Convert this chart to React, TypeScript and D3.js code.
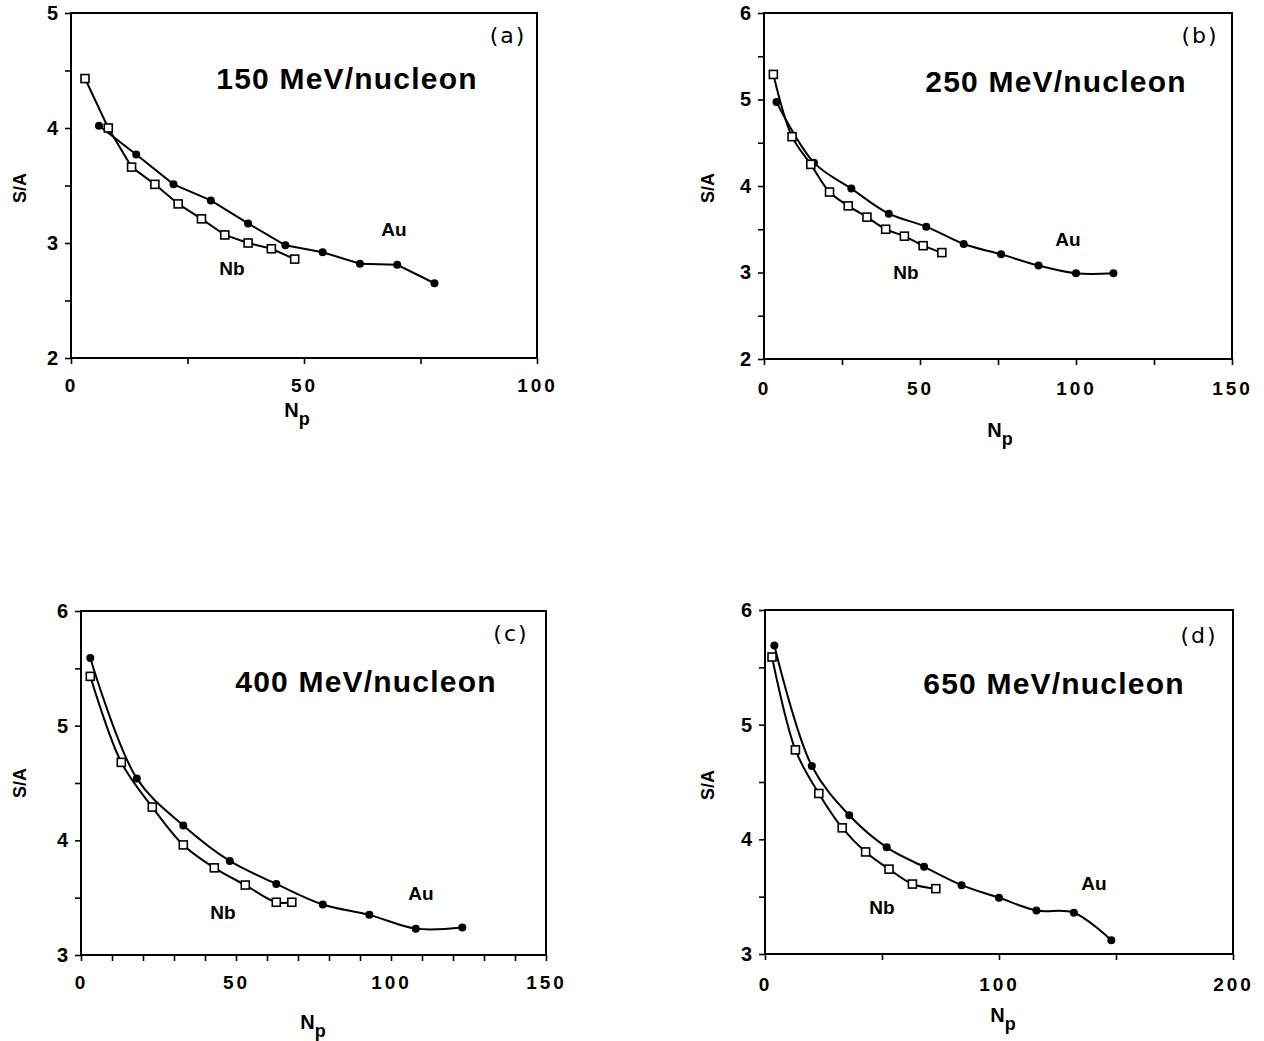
import React, { useEffect, useRef } from 'react';
import * as d3 from 'd3';

// (a) 150 MeV/nucleon
const npAu150 = [6, 14, 22, 30, 38, 46, 54, 62, 70, 78];
const saAu150 = [4.02, 3.77, 3.51, 3.37, 3.17, 2.98, 2.92, 2.82, 2.81, 2.65];
const npNb150 = [3, 8, 13, 18, 23, 28, 33, 38, 43, 48];
const saNb150 = [4.43, 4.0, 3.66, 3.51, 3.34, 3.21, 3.07, 3.0, 2.95, 2.86];

// (b) 250 MeV/nucleon
const npAu250 = [4, 16, 28, 40, 52, 64, 76, 88, 100, 112];
const saAu250 = [4.97, 4.27, 3.97, 3.68, 3.53, 3.33, 3.21, 3.08, 2.99, 2.99];
const npNb250 = [3, 9, 15, 21, 27, 33, 39, 45, 51, 57];
const saNb250 = [5.29, 4.57, 4.25, 3.93, 3.77, 3.64, 3.5, 3.42, 3.31, 3.23];

// (c) 400 MeV/nucleon
const npAu400 = [3, 18, 33, 48, 63, 78, 93, 108, 123];
const saAu400 = [5.59, 4.54, 4.13, 3.82, 3.62, 3.44, 3.35, 3.23, 3.24];
const npNb400 = [3, 13, 23, 33, 43, 53, 63, 68];
const saNb400 = [5.43, 4.68, 4.29, 3.96, 3.76, 3.61, 3.46, 3.46];

// (d) 650 MeV/nucleon
const npAu650 = [4, 20, 36, 52, 68, 84, 100, 116, 132, 148];
const saAu650 = [5.69, 4.64, 4.21, 3.93, 3.76, 3.6, 3.49, 3.38, 3.36, 3.12];
const npNb650 = [3, 13, 23, 33, 43, 53, 63, 73];
const saNb650 = [5.59, 4.78, 4.4, 4.1, 3.89, 3.74, 3.61, 3.57];

const panelTags = ['(a)', '(b)', '(c)', '(d)'];
const energies = ['150 MeV/nucleon', '250 MeV/nucleon', '400 MeV/nucleon', '650 MeV/nucleon'];

const FONT = "'Liberation Sans', Arial, Helvetica, sans-serif";

const panels = [
  {
    tag: panelTags[0], title: energies[0],
    au: npAu150.map((n, i) => [n, saAu150[i]]), nb: npNb150.map((n, i) => [n, saNb150[i]]),
    xDomain: [0, 100], yDomain: [2, 5], xStep: 25, xLabels: [0, 50, 100],
    left: 71, right: 537, top: 13, bottom: 358, smooth: false,
    tagPos: [508, 35], titlePos: [347, 78], auPos: [394, 229], nbPos: [232, 268],
    saPos: [20, 188], npPos: [297, 410], xPad: 15,
  },
  {
    tag: panelTags[1], title: energies[1],
    au: npAu250.map((n, i) => [n, saAu250[i]]), nb: npNb250.map((n, i) => [n, saNb250[i]]),
    xDomain: [0, 150], yDomain: [2, 6], xStep: 25, xLabels: [0, 50, 100, 150],
    left: 764, right: 1232, top: 13, bottom: 359, smooth: true,
    tagPos: [1200, 35], titlePos: [1056, 81], auPos: [1068, 239], nbPos: [906, 272],
    saPos: [708, 188], npPos: [1000, 430], xPad: 17,
  },
  {
    tag: panelTags[2], title: energies[2],
    au: npAu400.map((n, i) => [n, saAu400[i]]), nb: npNb400.map((n, i) => [n, saNb400[i]]),
    xDomain: [0, 150], yDomain: [3, 6], xStep: 10, xLabels: [0, 50, 100, 150],
    left: 81, right: 546, top: 611, bottom: 955, smooth: true,
    tagPos: [511, 633], titlePos: [366, 681], auPos: [421, 893], nbPos: [223, 912],
    saPos: [20, 783], npPos: [313, 1022], xPad: 15,
  },
  {
    tag: panelTags[3], title: energies[3],
    au: npAu650.map((n, i) => [n, saAu650[i]]), nb: npNb650.map((n, i) => [n, saNb650[i]]),
    xDomain: [0, 200], yDomain: [3, 6], xStep: 50, xLabels: [0, 100, 200],
    left: 765, right: 1233, top: 610, bottom: 954, smooth: true,
    tagPos: [1199, 635], titlePos: [1054, 683], auPos: [1094, 883], nbPos: [882, 907],
    saPos: [708, 785], npPos: [1003, 1015], xPad: 18,
  },
];

const App = () => {
  const ref = useRef<SVGSVGElement>(null);

  useEffect(() => {
    const svg = d3.select(ref.current);
    svg.selectAll('*').remove();

    panels.forEach((p) => {
      const g = svg.append('g');
      const x = d3.scaleLinear().domain(p.xDomain).range([p.left, p.right]);
      const y = d3.scaleLinear().domain(p.yDomain).range([p.bottom, p.top]);

      // x axis (ticks down, labels only at major values)
      const xAx = g
        .append('g')
        .attr('transform', `translate(0,${p.bottom})`)
        .call(
          d3
            .axisBottom(x)
            .tickValues(d3.range(p.xDomain[0], p.xDomain[1] + 0.001, p.xStep))
            .tickSize(6)
            .tickSizeOuter(0)
            .tickPadding(p.xPad)
            .tickFormat((d) => (p.xLabels.includes(+d) ? String(d) : ''))
        );
      xAx.select('.domain').remove();
      xAx.selectAll('line').attr('stroke', '#000').attr('stroke-width', 1.6);
      xAx
        .selectAll('text')
        .attr('font-family', FONT)
        .attr('font-weight', 'bold')
        .attr('font-size', 19)
        .attr('letter-spacing', 3)
        .attr('fill', '#000');

      // y axis (ticks every 0.5)
      const yAx = g
        .append('g')
        .attr('transform', `translate(${p.left},0)`)
        .call(
          d3
            .axisLeft(y)
            .tickValues(d3.range(p.yDomain[0], p.yDomain[1] + 0.001, 0.5))
            .tickSize(6)
            .tickSizeOuter(0)
            .tickPadding(7)
            .tickFormat((d) => (Number.isInteger(+d) ? String(d) : ''))
        );
      yAx.select('.domain').remove();
      yAx.selectAll('line').attr('stroke', '#000').attr('stroke-width', 1.6);
      yAx
        .selectAll('text')
        .attr('font-family', FONT)
        .attr('font-weight', 'bold')
        .attr('font-size', 20)
        .attr('fill', '#000');

      // frame
      g.append('rect')
        .attr('x', p.left)
        .attr('y', p.top)
        .attr('width', p.right - p.left)
        .attr('height', p.bottom - p.top)
        .attr('fill', 'none')
        .attr('stroke', '#000')
        .attr('stroke-width', 2);

      const line = d3
        .line<number[]>()
        .x((d) => x(d[0]))
        .y((d) => y(d[1]))
        .curve(p.smooth ? d3.curveCatmullRom.alpha(0.5) : d3.curveLinear);

      [p.au, p.nb].forEach((data) => {
        g.append('path')
          .datum(data)
          .attr('fill', 'none')
          .attr('stroke', '#000')
          .attr('stroke-width', 2)
          .attr('d', line);
      });

      // Au: filled dots
      g.selectAll('.au')
        .data(p.au)
        .enter()
        .append('circle')
        .attr('cx', (d) => x(d[0]))
        .attr('cy', (d) => y(d[1]))
        .attr('r', 4)
        .attr('fill', '#000');

      // Nb: open squares
      g.selectAll('.nb')
        .data(p.nb)
        .enter()
        .append('rect')
        .attr('x', (d) => x(d[0]) - 4)
        .attr('y', (d) => y(d[1]) - 4)
        .attr('width', 8)
        .attr('height', 8)
        .attr('fill', '#fff')
        .attr('stroke', '#000')
        .attr('stroke-width', 1.6);

      // texts
      g.append('text')
        .attr('x', p.tagPos[0])
        .attr('y', p.tagPos[1])
        .attr('text-anchor', 'middle')
        .attr('dominant-baseline', 'central')
        .attr('font-family', "'DejaVu Sans', sans-serif")
        .attr('font-size', 22)
        .attr('letter-spacing', 2)
        .text(p.tag);

      g.append('text')
        .attr('x', p.titlePos[0])
        .attr('y', p.titlePos[1])
        .attr('text-anchor', 'middle')
        .attr('dominant-baseline', 'central')
        .attr('font-family', FONT)
        .attr('font-weight', 'bold')
        .attr('font-size', 30)
        .attr('letter-spacing', 1.2)
        .text(p.title);

      [
        ['Au', p.auPos],
        ['Nb', p.nbPos],
      ].forEach(([t, pos]) => {
        g.append('text')
          .attr('x', (pos as number[])[0])
          .attr('y', (pos as number[])[1])
          .attr('text-anchor', 'middle')
          .attr('dominant-baseline', 'central')
          .attr('font-family', FONT)
          .attr('font-weight', 'bold')
          .attr('font-size', 19)
          .text(t as string);
      });

      g.append('text')
        .attr('transform', `translate(${p.saPos[0]},${p.saPos[1]}) rotate(-90)`)
        .attr('text-anchor', 'middle')
        .attr('dominant-baseline', 'central')
        .attr('font-family', FONT)
        .attr('font-weight', 'bold')
        .attr('font-size', 18)
        .text('S/A');

      const np = g
        .append('text')
        .attr('x', p.npPos[0])
        .attr('y', p.npPos[1] + 7)
        .attr('text-anchor', 'middle')
        .attr('font-family', FONT)
        .attr('font-weight', 'bold')
        .attr('font-size', 20);
      np.append('tspan').text('N');
      np.append('tspan').attr('dy', 8).attr('font-size', 18).text('p');
    });
  }, []);

  return (
    <svg
      ref={ref}
      width={1264}
      height={1041}
      style={{ position: 'absolute', left: 0, top: 0, background: '#fff' }}
    />
  );
};

export default App;
